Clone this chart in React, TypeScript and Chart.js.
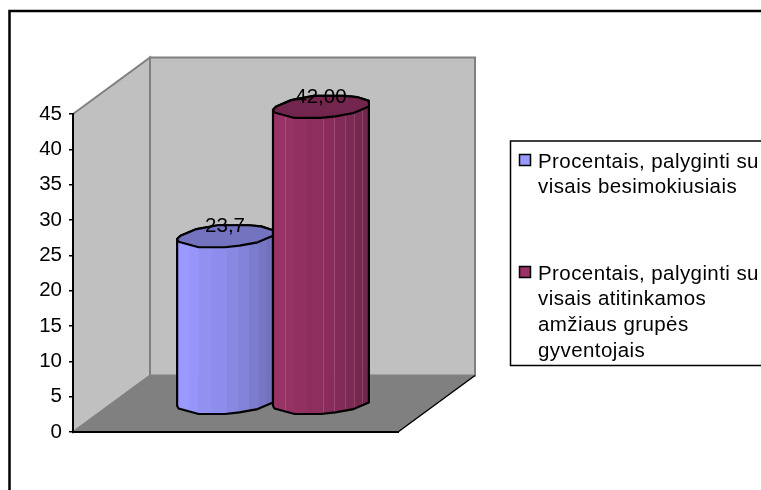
import React, { useEffect, useRef } from "react";
import { Chart, registerables } from "chart.js";

Chart.register(...registerables);

// ---- data ----
const categories = [""];
const seriesNames = [
  "Procentais, palyginti su visais besimokiusiais",
  "Procentais, palyginti su visais atitinkamos amžiaus grupės gyventojais",
];
const seriesValues = [23.7, 42.0];
const valueLabels = ["23,7", "42,00"];
const legendLines = [
  ["Procentais, palyginti su", "visais besimokiusiais"],
  ["Procentais, palyginti su", "visais atitinkamos", "amžiaus grupės", "gyventojais"],
];
const seriesColors = ["#9999FF", "#993366"];
const facetLineAlpha = [0, 0.14];

// ---- styling / geometry ----
const FONT = '"Liberation Sans", Arial, sans-serif';
const FONT_SIZE = 20.5;
const LEGEND_LETTER = "0.42px";
const DEPTH_X = 77;
const DEPTH_Y = -56.5;
const RY = 11;
const FACET_EDGES = [0, 0.13, 0.22, 0.36, 0.52, 0.64, 0.75, 0.85, 0.93, 1];
const FACET_SHADE = [1, 0.98, 0.95, 0.92, 0.89, 0.85, 0.81, 0.77, 0.74];
const TOP_SHADE = 0.75;
// outline of the cylinder's sheared ellipse, in units of radius
const RIM_BACK: [number, number][] = [[-1, 0.25], [-0.93, -0.05], [-0.62, -0.62], [-0.15, -1], [0.5, -1], [0.75, -0.9], [1, -0.55], [1, -0.05]];
const RIM_FRONT: [number, number][] = [[1, -0.05], [0.68, 0.55], [0.3, 0.85], [0, 1], [-0.55, 1], [-0.97, 0.5], [-1, 0.25]];

function shade(hex: string, k: number) {
  const n = parseInt(hex.slice(1), 16);
  return `rgb(${Math.round(((n >> 16) & 255) * k)},${Math.round(((n >> 8) & 255) * k)},${Math.round((n & 255) * k)})`;
}

function drawCylinder(chart: any, i: number) {
  const { ctx } = chart;
  const el = chart.getDatasetMeta(i).data[0];
  const color = chart.data.datasets[i].backgroundColor as string;
  const cx = el.x + DEPTH_X / 2 - 1;
  const rx = el.width / 2;
  const topY = el.y + DEPTH_Y / 2;
  const botY = el.base + DEPTH_Y / 2;
  const px = (p: [number, number]) => cx + p[0] * rx;
  const last = RIM_FRONT[RIM_FRONT.length - 1];

  ctx.save();
  ctx.lineJoin = "round";
  const body = new Path2D();
  body.moveTo(px(RIM_FRONT[0]), topY + RIM_FRONT[0][1] * RY);
  RIM_FRONT.forEach((p) => body.lineTo(px(p), botY + p[1] * RY));
  body.lineTo(px(last), topY + last[1] * RY);
  RIM_BACK.forEach((p) => body.lineTo(px(p), topY + p[1] * RY));
  body.closePath();
  ctx.save();
  ctx.clip(body);
  const x0 = cx - rx;
  const w = rx * 2;
  FACET_SHADE.forEach((k, j) => {
    ctx.fillStyle = shade(color, k);
    ctx.fillRect(x0 + FACET_EDGES[j] * w, topY - RY * 2, (FACET_EDGES[j + 1] - FACET_EDGES[j]) * w + 0.5, botY - topY + RY * 4);
  });
  if (facetLineAlpha[i] > 0) {
    ctx.strokeStyle = `rgba(255,255,255,${facetLineAlpha[i]})`;
    ctx.lineWidth = 1;
    FACET_EDGES.slice(1, -1).forEach((f, j) => {
      if (j >= 3 || j === 0) {
        const x = Math.round(x0 + f * w) + 0.5;
        ctx.beginPath();
        ctx.moveTo(x, topY);
        ctx.lineTo(x, botY + RY);
        ctx.stroke();
      }
    });
  }
  ctx.restore();
  ctx.strokeStyle = "#000";
  ctx.lineWidth = 2.2;
  ctx.stroke(body);
  // top face
  ctx.beginPath();
  RIM_BACK.forEach((p, k) => (k ? ctx.lineTo(px(p), topY + p[1] * RY) : ctx.moveTo(px(p), topY + p[1] * RY)));
  RIM_FRONT.forEach((p) => ctx.lineTo(px(p), topY + p[1] * RY));
  ctx.closePath();
  ctx.fillStyle = shade(color, TOP_SHADE);
  ctx.fill();
  ctx.stroke();
  ctx.restore();
}

const scenePlugin = {
  id: "scene",
  beforeDraw(chart: any) {
    const { ctx, chartArea: a } = chart;
    const { left: l, right: r, top: t, bottom: b } = a;
    ctx.save();
    // outer frame (open on the right and at the bottom)
    ctx.strokeStyle = "#000";
    ctx.lineWidth = 2.5;
    ctx.beginPath();
    ctx.moveTo(9.5, 490);
    ctx.lineTo(9.5, 11);
    ctx.lineTo(761, 11);
    ctx.stroke();
    // floor
    ctx.fillStyle = "#808080";
    ctx.beginPath();
    ctx.moveTo(l, b);
    ctx.lineTo(l + DEPTH_X, b + DEPTH_Y);
    ctx.lineTo(r + DEPTH_X, b + DEPTH_Y);
    ctx.lineTo(r, b);
    ctx.closePath();
    ctx.fill();
    // walls
    ctx.fillStyle = "#C0C0C0";
    ctx.strokeStyle = "#808080";
    ctx.lineWidth = 2;
    ctx.beginPath();
    ctx.rect(l + DEPTH_X, t + DEPTH_Y, r - l, b - t);
    ctx.fill();
    ctx.stroke();
    ctx.beginPath();
    ctx.moveTo(l, t);
    ctx.lineTo(l + DEPTH_X, t + DEPTH_Y);
    ctx.lineTo(l + DEPTH_X, b + DEPTH_Y);
    ctx.lineTo(l, b);
    ctx.closePath();
    ctx.fill();
    ctx.stroke();
    // floor's front right edge
    ctx.strokeStyle = "#000";
    ctx.lineWidth = 1.5;
    ctx.beginPath();
    ctx.moveTo(r, b);
    ctx.lineTo(r + DEPTH_X, b + DEPTH_Y);
    ctx.stroke();
    ctx.restore();
  },
  // the library's flat bars are replaced by cylinders placed from their elements
  beforeDatasetDraw() {
    return false;
  },
  afterDatasetsDraw(chart: any) {
    const { ctx } = chart;
    chart.data.datasets.forEach((_: any, i: number) => drawCylinder(chart, i));
    ctx.save();
    ctx.font = `${FONT_SIZE}px ${FONT}`;
    ctx.fillStyle = "#000";
    ctx.textAlign = "center";
    ctx.textBaseline = "middle";
    chart.data.datasets.forEach((_: any, i: number) => {
      const el = chart.getDatasetMeta(i).data[0];
      ctx.fillText(valueLabels[i], el.x + DEPTH_X / 2 - 1, el.y + DEPTH_Y / 2 - 10);
    });
    ctx.restore();
  },
  afterDraw(chart: any) {
    const { ctx } = chart;
    ctx.save();
    // legend box (runs off the right edge)
    ctx.strokeStyle = "#000";
    ctx.lineWidth = 1.5;
    ctx.beginPath();
    ctx.moveTo(761, 141);
    ctx.lineTo(510.5, 141);
    ctx.lineTo(510.5, 365.5);
    ctx.lineTo(761, 365.5);
    ctx.stroke();
    ctx.font = `${FONT_SIZE}px ${FONT}`;
    ctx.letterSpacing = LEGEND_LETTER;
    ctx.textBaseline = "middle";
    const starts = [162, 274];
    legendLines.forEach((lines, i) => {
      ctx.fillStyle = seriesColors[i];
      ctx.strokeStyle = "#000";
      ctx.lineWidth = 1.5;
      ctx.beginPath();
      ctx.rect(519.5, starts[i] - 7.5, 11, 11);
      ctx.fill();
      ctx.stroke();
      ctx.fillStyle = "#000";
      lines.forEach((s, j) => ctx.fillText(s, 538, starts[i] + j * 25.8));
    });
    ctx.restore();
  },
};

export default function App() {
  const ref = useRef<HTMLCanvasElement>(null);
  useEffect(() => {
    const chart = new Chart(ref.current!, {
      type: "bar",
      data: {
        labels: categories,
        datasets: seriesNames.map((label, i) => ({
          label,
          data: [seriesValues[i]],
          backgroundColor: seriesColors[i],
        })),
      },
      options: {
        animation: false,
        responsive: false,
        layout: { padding: { top: 114, bottom: 58, left: 0, right: 363 } },
        plugins: { legend: { display: false }, tooltip: { enabled: false }, title: { display: false } },
        datasets: { bar: { barPercentage: 1, categoryPercentage: 0.59 } },
        scales: {
          x: {
            afterFit: (s: any) => {
              s.height = 0;
            },
            grid: { display: false },
            border: { display: true, color: "#000", width: 2 },
            ticks: { display: false },
          },
          y: {
            min: 0,
            max: 45,
            afterFit: (s: any) => {
              s.width = 73;
            },
            ticks: { stepSize: 5, color: "#000", padding: 7, font: { family: FONT, size: FONT_SIZE } },
            grid: { drawOnChartArea: false, drawTicks: true, tickLength: 4, color: "#000", lineWidth: 1.5 },
            border: { display: true, color: "#000", width: 2 },
          },
        },
      },
      plugins: [scenePlugin],
    } as any);
    return () => chart.destroy();
  }, []);
  return (
    <div style={{ position: "fixed", left: 0, top: 0, width: 761, height: 490, background: "#fff" }}>
      <canvas ref={ref} width={761} height={490} style={{ display: "block" }} />
    </div>
  );
}
